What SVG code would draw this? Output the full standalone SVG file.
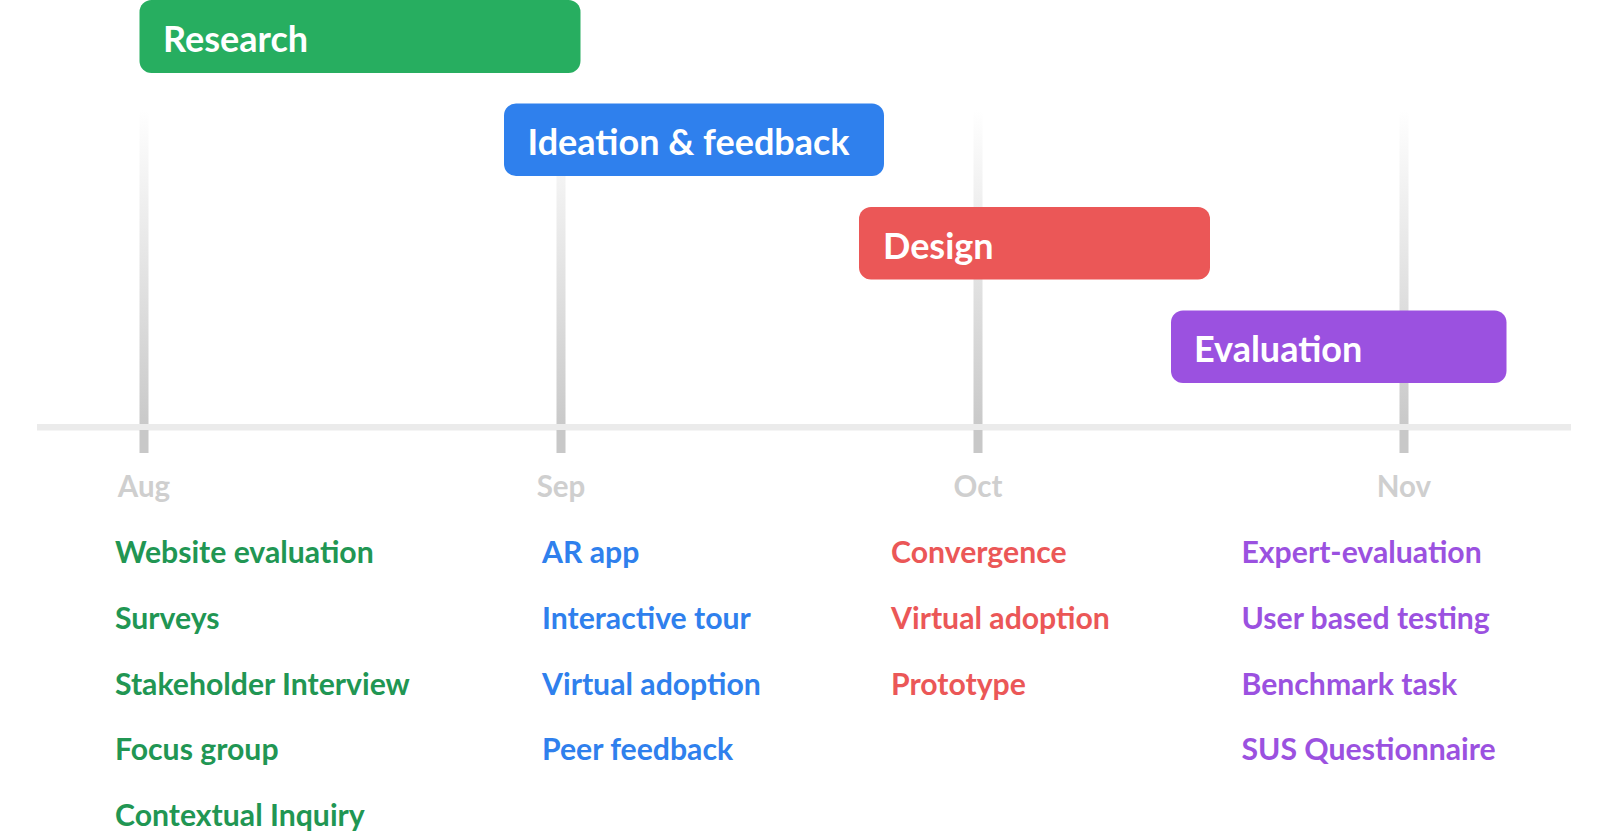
<svg xmlns="http://www.w3.org/2000/svg" width="1610" height="833" viewBox="0 0 1610 833">
  <defs>
    <linearGradient id="tickGrad" x1="0" y1="0" x2="0" y2="1">
      <stop offset="0" stop-color="#ffffff"/>
      <stop offset="1" stop-color="#c8c8c8"/>
    </linearGradient>
    <style>
      .bar-text { font-family: Lato, "Liberation Sans", sans-serif; font-weight: 700; font-size: 36px; fill: #ffffff; }
      .month { font-family: Lato, "Liberation Sans", sans-serif; font-weight: 700; font-size: 29.5px; fill: #cfcfcf; text-anchor: middle; }
      .item { font-family: Lato, "Liberation Sans", sans-serif; font-weight: 700; font-size: 30.2px; }
      .green { fill: #219653; }
      .blue { fill: #2f80ed; }
      .red { fill: #eb5757; }
      .purple { fill: #9b51e0; }
      .tick-up { fill: url(#tickGrad); }
      .tick-down { fill: #c8c8c8; }
    </style>
  </defs>
  <rect width="1610" height="833" fill="#ffffff"/>

  <g id="axis">
    <rect x="139.5" y="110" width="9" height="320" class="tick-up"/>
    <rect x="556.5" y="110" width="9" height="320" class="tick-up"/>
    <rect x="973.5" y="110" width="9" height="320" class="tick-up"/>
    <rect x="1399.5" y="110" width="9" height="320" class="tick-up"/>
    <rect x="37" y="424" width="1534" height="6.5" fill="#ebebeb"/>
    <rect x="139.5" y="430" width="9" height="23" class="tick-down"/>
    <rect x="556.5" y="430" width="9" height="23" class="tick-down"/>
    <rect x="973.5" y="430" width="9" height="23" class="tick-down"/>
    <rect x="1399.5" y="430" width="9" height="23" class="tick-down"/>
    <text x="144" y="496.5" class="month">Aug</text>
    <text x="561" y="496.5" class="month">Sep</text>
    <text x="978" y="496.5" class="month">Oct</text>
    <text x="1404" y="496.5" class="month">Nov</text>
  </g>

  <g id="research">
    <rect x="139.5" y="0" width="441" height="73" rx="12" fill="#27ae60"/>
    <text x="163" y="51.5" class="bar-text">Research</text>
  </g>
  <g id="ideation">
    <rect x="504" y="103.5" width="380" height="72.5" rx="12" fill="#2f80ed"/>
    <text x="527.5" y="155" class="bar-text">Ideation &amp; feedback</text>
  </g>
  <g id="design">
    <rect x="859" y="207" width="351" height="72.5" rx="12" fill="#eb5757"/>
    <text x="883" y="258.5" class="bar-text">Design</text>
  </g>
  <g id="evaluation">
    <rect x="1171" y="310.5" width="335.5" height="72.5" rx="12" fill="#9b51e0"/>
    <text x="1194" y="362" class="bar-text">Evaluation</text>
  </g>

  <g id="research-items" class="item green">
    <text x="115" y="563">Website evaluation</text>
    <text x="115" y="629">Surveys</text>
    <text x="115" y="694.7">Stakeholder Interview</text>
    <text x="115" y="760.2">Focus group</text>
    <text x="115" y="825.7">Contextual Inquiry</text>
  </g>
  <g id="ideation-items" class="item blue">
    <text x="542" y="563">AR app</text>
    <text x="542" y="629">Interactive tour</text>
    <text x="542" y="694.7">Virtual adoption</text>
    <text x="542" y="760.2">Peer feedback</text>
  </g>
  <g id="design-items" class="item red">
    <text x="891" y="563">Convergence</text>
    <text x="891" y="629">Virtual adoption</text>
    <text x="891" y="694.7">Prototype</text>
  </g>
  <g id="evaluation-items" class="item purple">
    <text x="1241.5" y="563">Expert-evaluation</text>
    <text x="1241.5" y="629">User based testing</text>
    <text x="1241.5" y="694.7">Benchmark task</text>
    <text x="1241.5" y="760.2">SUS Questionnaire</text>
  </g>
</svg>
